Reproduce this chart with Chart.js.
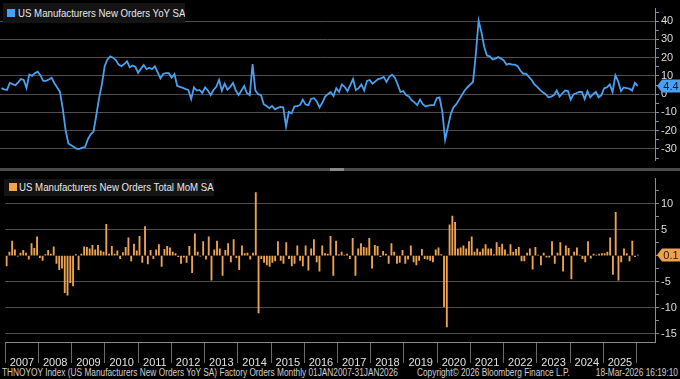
<!DOCTYPE html>
<html>
<head>
<meta charset="utf-8">
<script src="https://cdn.jsdelivr.net/npm/chart.js@4.4.1/dist/chart.umd.min.js"></script>
<style>
html,body{margin:0;padding:0;background:#000;width:680px;height:379px;overflow:hidden;}
#wrap{position:relative;width:680px;height:379px;background:#000;font-family:'Liberation Sans',Arial,sans-serif;}
canvas{position:absolute;left:0;}
#c1{top:0;}
#c2{top:170px;}
.leg{position:absolute;background:#141414;color:#e8e8e8;font-size:11.5px;white-space:nowrap;overflow:hidden;}
.leg i{position:absolute;width:8px;height:8px;}
.leg span{position:absolute;left:15px;top:0;transform:scaleX(0.84);transform-origin:left center;}
#leg1{left:3px;top:3px;width:182px;height:20px;line-height:20px;}
#leg1 i{left:4px;top:6px;background:#4a9ff0;}
#leg2{left:4px;top:179px;width:210px;height:17px;line-height:17px;}
#leg2 i{left:5px;top:4px;background:#f2a447;}
#sep{position:absolute;left:0;top:168px;width:680px;height:3px;background:#4a4a4a;}
#knob{position:absolute;left:330px;top:168px;width:14px;height:3px;background:#8a8a8a;}
#foot{position:absolute;top:367px;left:0;width:680px;height:12px;font-size:10px;color:#cfcfcf;line-height:12px;white-space:nowrap;}
#foot span{position:absolute;top:0;transform:scaleX(0.83);}
#f1,#f2{transform-origin:left center;}
#f3{transform-origin:right center;}
</style>
</head>
<body>
<div id="wrap">
  <canvas id="c1" width="680" height="169"></canvas>
  <canvas id="c2" width="680" height="197"></canvas>
  <div id="sep"></div><div id="knob"></div>
  <div class="leg" id="leg1"><i></i><span id="t1"></span></div>
  <div class="leg" id="leg2"><i></i><span id="t2"></span></div>
  <div id="foot">
    <span id="f1" style="left:2px"></span>
    <span id="f2" style="left:417px"></span>
    <span id="f3" style="right:2px"></span>
  </div>
</div>
<script>
// ---- data (monthly, Jan 2007 .. Jan 2026) ----
const yearLabels = ['2007','2008','2009','2010','2011','2012','2013','2014','2015','2016',
                    '2017','2018','2019','2020','2021','2022','2023','2024','2025'];
const seriesNames = ['US Manufacturers New Orders YoY SA','US Manufacturers New Orders Total MoM SA'];
const footerTexts = ['THNOYOY Index (US Manufacturers New Orders YoY SA) Factory Orders Monthly 01JAN2007-31JAN2026',
                     'Copyright\u00A9 2026 Bloomberg Finance L.P.',
                     '18-Mar-2026 16:19:10'];
const yoy = [
  3.3, 2.6, 2.3, 6.2, 5.5, 4.9, 6.5, 8.3, 7.8, 3.3, 10.7, 10.0,        // 2007
  11.5, 12.3, 10.3, 7.3, 7.3, 8.0, 9.0, 6.0, 3.7, 1.2, -8.0, -19.7,    // 2008
  -27, -28, -29, -30, -30, -29.3, -29, -24.7, -22, -20.5, -11.7, -2.2, // 2009
  5.3, 15.3, 19.0, 20.7, 20.0, 18.7, 16.2, 15.3, 16.5, 18.0, 14.8, 15.7, // 2010
  15, 11.7, 14, 16, 13.7, 14.5, 13.7, 15.3, 12, 8.7, 11.2, 11.5,       // 2011
  11.5, 9, 11, 4.5, 4, 3.5, 2.8, 2.3, -2.7, 3.7, 2, 2.3,               // 2012
  0.7, 3.7, 2, -0.5, 2.3, 4, 7.8, 1.9, 5.7, 2.5, 4, 6.2,               // 2013
  2, -0.5, 2, 4.5, 0.5, -0.5, 16.5, 2, 0, -0.5, -5.5, -6.5,            // 2014
  -7.7, -6.5, -8.3, -7.5, -7, -7.2, -17.7, -9.7, -10.5, -6.7, -6.5, -6, // 2015
  -3, -5.7, -6, -2.5, -2.2, -4, -7.2, -4.7, -1.3, 0, 1.2, -1,          // 2016
  3.3, 1.2, 5.3, 4, 1.7, 5, 8.3, 2.3, 3.3, 5.3, 2, 7.3,                // 2017
  7.8, 5.7, 7, 8.3, 8.7, 9.5, 6.7, 9.5, 10.7, 9, 5.3, 1.2,             // 2018
  1.7, -0.5, -1.3, -3.3, -4.5, -6, -3, -5.5, -6.7, -6.3, -6, -6,       // 2019
  -2.2, -1.8, -9.7, -25, -18, -11, -7.2, -5.5, -3, -0.5, 2, 3.8,       // 2020
  5.3, 6.7, 22, 40.3, 34, 26, 21.2, 20.7, 19, 19.5, 20.3, 19.5,        // 2021
  18.5, 16.2, 16.7, 16.2, 16.2, 15.3, 12.8, 11.2, 11.2, 9.5, 7.8, 5.3, // 2022
  4, 2.3, 1, 0, -1.7, -1.3, -0.5, 2, -1.3, 0.5, 2, 1.7,                // 2023
  -3, 0, 0.5, 1.2, 1.2, -2.7, 1.7, -1.7, 0, 1.2, -1.7, -0.5,           // 2024
  3.3, 3.7, 5.3, 1.2, 10.3, 7, 1.7, 3.7, 3.3, 3, 2, 6.2,               // 2025
  4.4                                                                  // 2026
];
const mom = [
  -2, 0.7, 2.8, 1.1, -0.1, 0.5, 1, 0.5, -0.7, 2.3, 1.4, 3.6,           // 2007
  -0.4, -0.9, 0.2, 1, 0.3, 1.7, -1.5, -2.7, -2.4, -7.1, -7.6, -5.2,    // 2008
  -5.8, 0.2, -2.7, 0.3, 1.7, 1.6, 1.3, 2, 1.1, 2, 0.9, 0.7,            // 2009
  6, 0.3, 1.8, 0.3, 0.9, -0.6, 0.6, 1.6, 3.4, -1, 2.2, 0.9,            // 2010
  3.7, -1.3, 5.6, -1.6, 1, -0.6, 1.1, 2.1, -2.1, 1.2, 1.8, 1.5,        // 2011
  0.7, 0.4, -0.2, -1.5, -0.3, -1.3, 1.8, -3.3, 4.2, 0.7, -0.1, 2.7,    // 2012
  -0.7, 3.6, -4.7, 1.1, 2.8, 1.3, -3.8, 1, 2.3, -1.2, 3.1, -0.4,       // 2013
  -2.7, 1.9, 0.4, 0.5, -0.7, 0.5, 12.1, -11, -0.6, -1.3, -1.8, -2.1,   // 2014
  -1.3, -1, 2.7, -0.9, -1.5, 2.5, -0.6, -2, -1.5, 1.9, -0.9, -2,       // 2015
  1.9, -2.8, 1.3, 3.1, -1.2, -3, 1.9, 0.4, 0.3, 3.7, -3.8, 2.8,        // 2016
  0.2, 0.7, 0.1, 0.3, -0.6, 3.3, -3.8, 1.3, 2.3, 1.6, 1.5, 3.3,        // 2017
  -2.4, 2, 1.8, -0.2, 0.8, 0.3, -1.5, 2.3, 0.7, -1.5, -1.3, 1,         // 2018
  -1.5, -0.7, 1.9, -1.2, -1.8, -0.9, 1.2, -0.6, -0.7, -0.9, -1.2, 1.1, // 2019
  1.5, 0.2, -9.8, -13.7, 5.9, 7.6, 6.4, 1.3, 1.5, 1.9, 1.3, 2.7,       // 2020
  3.6, 0.7, 1.3, 0.7, 1.3, 2.1, 1.3, 1.3, 0.2, 2.5, 1.6, 2.2,          // 2021
  1.1, 0.2, 2.1, 0.7, 1.2, 1.6, -1, -1, 0.5, 1.3, -2.6, 1.6,           // 2022
  0.1, -1.8, 0.5, -0.3, -0.3, 2.7, -1.5, 0.5, 2.5, -3, 1.9, 1.4,       // 2023
  -4.5, 0.7, 1.5, 0.1, -0.6, -1.2, 2.7, -0.5, 0.3, 0.1, 0.3, 0.4,      // 2024
  0.4, 0.7, 3.4, -3.6, 8.3, -4.7, -1.2, 1.3, 0.4, -1, 2.8, -0.2,       // 2025
  0.1                                                                  // 2026
];
const yoyTicks = [-35,-30,-25,-20,-15,-10,-5,0,5,10,15,20,25,30,35,40,45];
const momTicks = [-15,-12.5,-10,-7.5,-5,-2.5,0,2.5,5,7.5,10,12.5];

// ---- text ----
document.getElementById('t1').textContent = seriesNames[0];
document.getElementById('t2').textContent = seriesNames[1];
document.getElementById('f1').textContent = footerTexts[0];
document.getElementById('f2').textContent = footerTexts[1];
document.getElementById('f3').textContent = footerTexts[2];

const FONT = "'Liberation Sans',Arial,sans-serif";
Chart.defaults.font.family = FONT;
Chart.defaults.font.size = 11;
Chart.defaults.color = '#dcdcdc';

const X_MIN = 0, X_MAX = 234.7;
const BLUE = '#4a9ff0', ORANGE = '#eda250';

const tagPlugin = {
  id: 'tag',
  afterDraw(chart, args, o) {
    const ctx = chart.ctx;
    const y = Math.round(chart.scales.y.getPixelForValue(o.value));
    const x0 = chart.chartArea.right + 2, x1 = chart.width, h = 13;
    ctx.save();
    ctx.fillStyle = o.bg;
    ctx.beginPath();
    ctx.moveTo(x0, y);
    ctx.lineTo(x0 + 5, y - h / 2);
    ctx.lineTo(x1, y - h / 2);
    ctx.lineTo(x1, y + h / 2);
    ctx.lineTo(x0 + 5, y + h / 2);
    ctx.closePath();
    ctx.fill();
    ctx.fillStyle = o.fg;
    ctx.font = "11px " + FONT;
    ctx.textAlign = 'center';
    ctx.textBaseline = 'middle';
    ctx.fillText(o.value.toFixed(1), (x0 + 5 + x1) / 2, y + 0.5);
    ctx.restore();
  }
};

function yAxis(min, max, tickList, majorFn, gridFn, axisColor) {
  return {
    position: 'right', min: min, max: max,
    afterBuildTicks: s => { s.ticks = tickList.map(v => ({ value: v })); },
    afterFit: s => { s.width = 25; },
    ticks: { padding: 2, autoSkip: false, color: '#dcdcdc',
             callback: v => majorFn(v) ? String(v) : '' },
    grid: { color: c => (c.tick && gridFn(c.tick.value)) ? '#4d4d4d' : 'rgba(0,0,0,0)',
            tickColor: axisColor, tickLength: 4, drawTicks: true, lineWidth: 1 },
    border: { display: true, color: axisColor }
  };
}

new Chart(document.getElementById('c1'), {
  type: 'line',
  data: { datasets: [{
    data: yoy.map((v, i) => ({ x: i + 0.5, y: v })),
    borderColor: BLUE, borderWidth: 1.8, pointRadius: 0, tension: 0, fill: false
  }]},
  options: {
    responsive: false, animation: false, devicePixelRatio: 1,
    layout: { padding: 0 },
    plugins: { legend: { display: false }, tooltip: { enabled: false },
               tag: { value: yoy[yoy.length - 1], bg: BLUE, fg: '#0b1a2b' } },
    scales: {
      x: { type: 'linear', min: X_MIN, max: X_MAX, display: false },
      y: yAxis(-36.3, 46.9, yoyTicks, v => v % 10 === 0, v => v % 10 === 0, '#6d93bf')
    }
  },
  plugins: [tagPlugin]
});

new Chart(document.getElementById('c2'), {
  type: 'bar',
  data: { datasets: [{
    data: mom.map((v, i) => ({ x: i + 0.5, y: v })),
    backgroundColor: ORANGE, borderWidth: 0, barThickness: 1.2
  }]},
  options: {
    responsive: false, animation: false, devicePixelRatio: 1,
    layout: { padding: { top: 2 } },
    plugins: { legend: { display: false }, tooltip: { enabled: false },
               tag: { value: mom[mom.length - 1], bg: ORANGE, fg: '#2a1600' } },
    scales: {
      x: { type: 'linear', min: X_MIN, max: X_MAX, offset: false,
           afterBuildTicks: s => { s.ticks = yearLabels.concat(['']).map((y, i) => ({ value: i * 12 })); },
           afterFit: s => { s.height = 25; },
           grid: { display: true, drawOnChartArea: false, drawTicks: true, tickLength: 21,
                   color: '#6a6a6a', offset: false },
           border: { display: true, color: '#8a8a8a' },
           ticks: { autoSkip: false, maxRotation: 0, minRotation: 0, labelOffset: 16.75,
                    padding: -7, color: '#e0e0e0', font: { size: 11 },
                    callback: v => yearLabels[Math.round(v / 12)] || '' } },
      y: yAxis(-16.6, 14.8, momTicks, v => v % 5 === 0 && v !== 0, v => v % 5 === 0 && v !== 0, '#8c8c8c')
    }
  },
  plugins: [tagPlugin]
});
</script>
</body>
</html>
